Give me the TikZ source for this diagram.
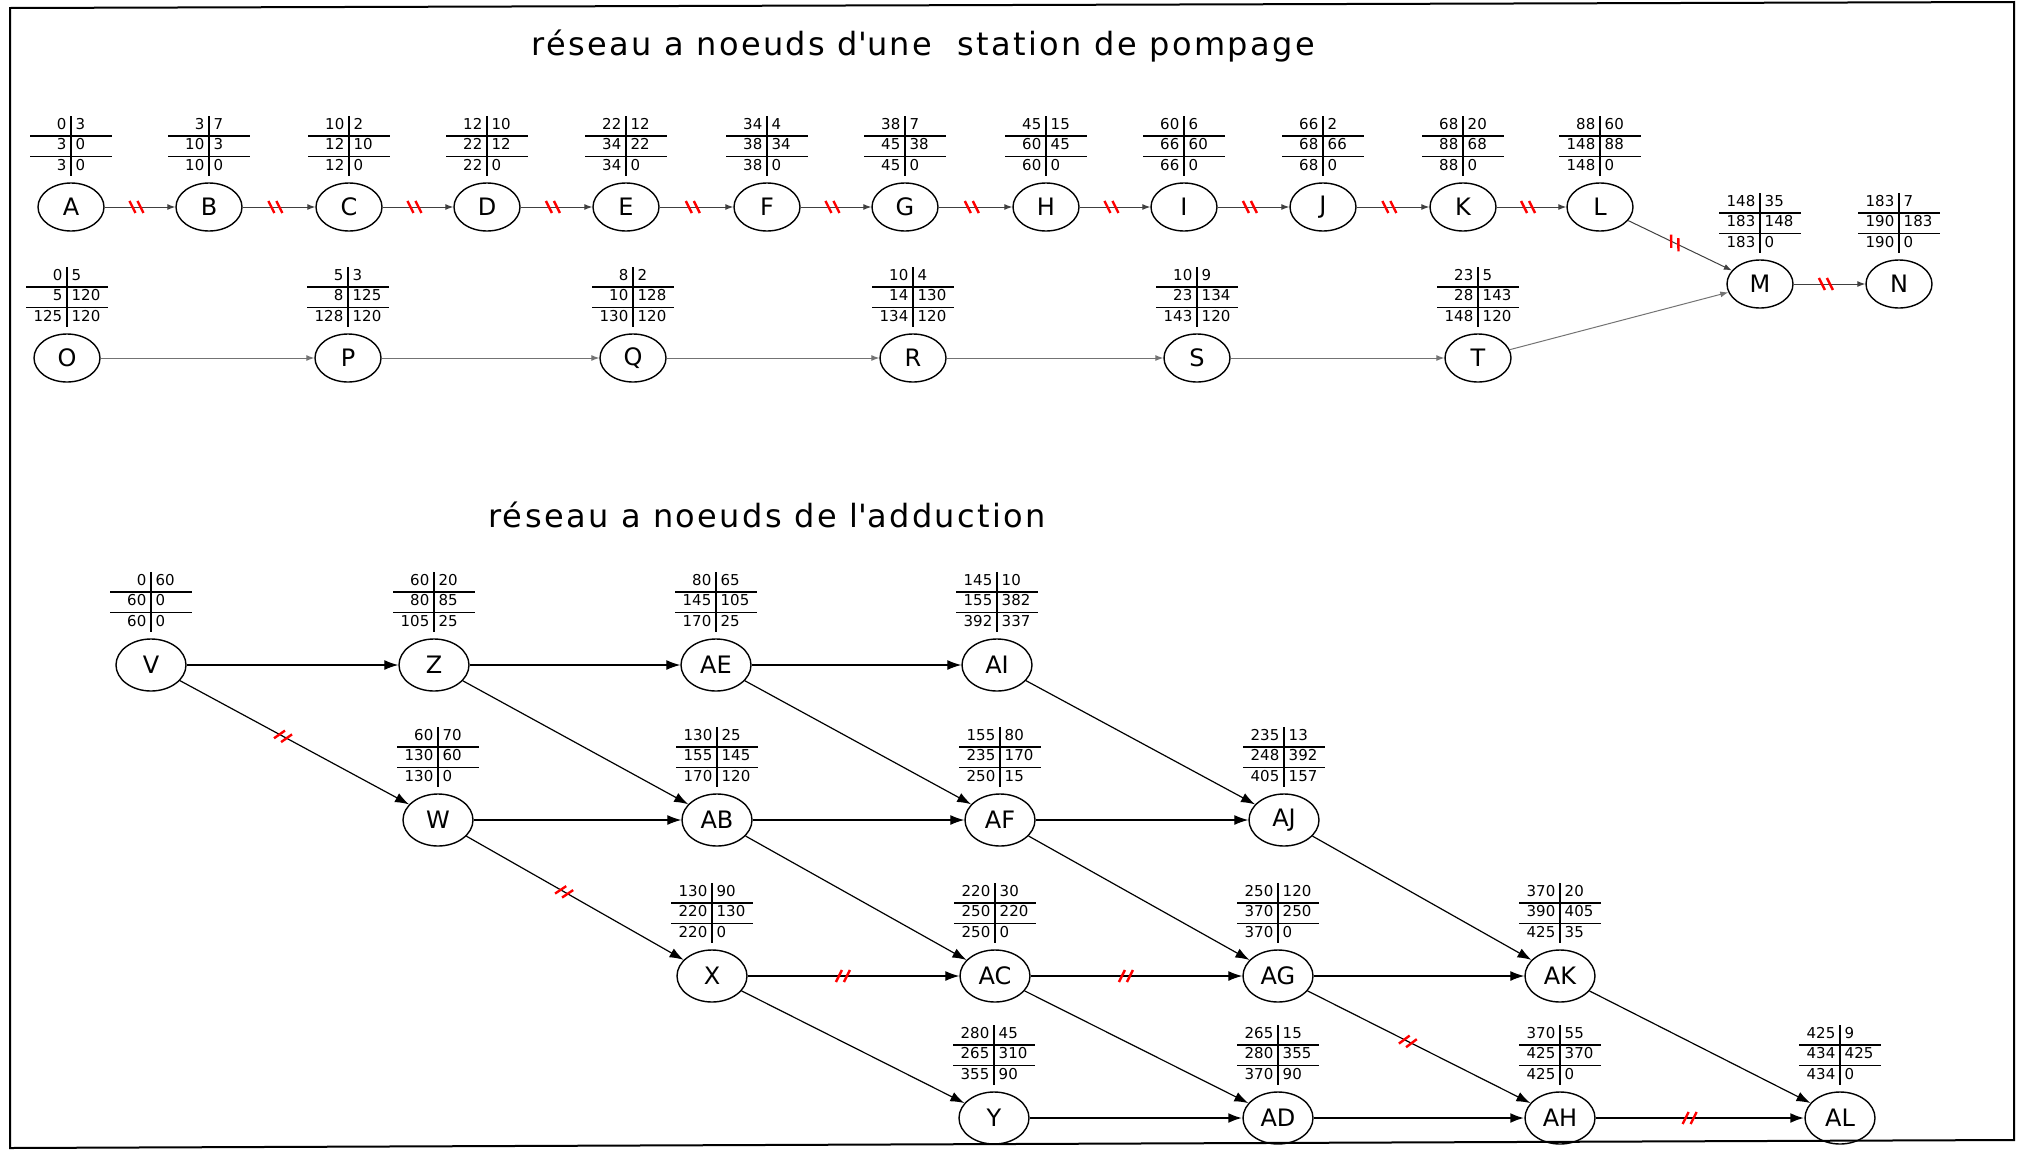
\documentclass[tikz,border=0pt]{standalone}
\usepackage{fontspec}
\setmainfont{DejaVu Sans}
\usepackage{array}
\usetikzlibrary{positioning,arrows.meta,shapes.geometric,decorations.markings}

% dates d'une tache : debut | duree, fin | ..., fin tard | marge
\newcommand{\tableau}[6]{%
  \setlength{\tabcolsep}{2pt}\setlength{\arrayrulewidth}{0.7pt}%
  \begin{tabular}{w{r}{16pt}|w{l}{16pt}}
    #1 & #2\\\hline
    #3 & #4\\\hline
    #5 & #6
  \end{tabular}}

\begin{document}
\begin{tikzpicture}[x=0.5pt,y=-0.5pt,
    etape/.style={ellipse,draw,line width=0.7pt,minimum width=33pt,minimum height=24pt,inner sep=0pt,font=\fontsize{12}{14}\selectfont},
    etapeb/.style={etape,minimum width=35pt,minimum height=26pt},
    dates/.style={inner sep=0pt,font=\fontsize{7.5}{9.5}\selectfont},
    titre/.style={font=\fontsize{16}{19}\selectfont\addfontfeature{LetterSpace=7.5}},
    lien/.style={draw=black!75,line width=0.5pt,-{Latex[length=4pt,width=3pt]}},
    fleche/.style={draw=black,line width=0.6pt,-{Latex[length=7pt,width=5pt]}},
    critique/.style={postaction={decorate},decoration={markings,mark=at position 0.45 with
      {\draw[red,line width=1.2pt,-] (-3.5pt,3pt) -- (-0.5pt,-3pt) (0.5pt,3pt) -- (3.5pt,-3pt);}}},
    critiqueb/.style={postaction={decorate},decoration={markings,mark=at position 0.45 with
      {\draw[red,line width=1.2pt,-] (-3.5pt,-3pt) -- (-0.5pt,3pt) (0.5pt,-3pt) -- (3.5pt,3pt);}}}]
  \useasboundingbox (0,0) rectangle (2024,1157);
  \draw[line width=1pt] (10,8) -- (2014,2) -- (2014,1140) -- (10,1148) -- cycle;

  \node[titre] (titre1) at (923,46) {réseau a noeuds d\textquotesingle une~~station de pompage};
  \node[titre] (titre2) at (767,515) {réseau a noeuds de l\textquotesingle adduction};

  % station de pompage
  \foreach \n/\x/\y/\va/\vb/\vc/\vd/\ve/\vf in {A/71/207/0/3/3/0/3/0, B/209/207/3/7/10/3/10/0,
      C/349/207/10/2/12/10/12/0, D/487/207/12/10/22/12/22/0, E/626/207/22/12/34/22/34/0,
      F/767/207/34/4/38/34/38/0, G/905/207/38/7/45/38/45/0, H/1046/207/45/15/60/45/60/0,
      I/1184/207/60/6/66/60/66/0, J/1323/207/66/2/68/66/68/0, K/1463/207/68/20/88/68/88/0,
      L/1600/207/88/60/148/88/148/0, M/1760/284/148/35/183/148/183/0, N/1899/284/183/7/190/183/190/0,
      O/67/358/0/5/5/120/125/120, P/348/358/5/3/8/125/128/120, Q/633/358/8/2/10/128/130/120,
      R/913/358/10/4/14/130/134/120, S/1197/358/10/9/23/134/143/120, T/1478/358/23/5/28/143/148/120}
    {\node[etape] (\n) at (\x,\y) {\n};
     \node[dates,above=3pt of \n] (t\n) {\tableau{\va}{\vb}{\vc}{\vd}{\ve}{\vf}};}

  \foreach \de/\vers in {A/B,B/C,C/D,D/E,E/F,F/G,G/H,H/I,I/J,J/K,K/L,L/M,M/N}
    \draw[lien,critique] (\de) -- (\vers);
  \foreach \de/\vers in {O/P,P/Q,Q/R,R/S,S/T,T/M}
    \draw[lien,draw=black!55] (\de) -- (\vers);

  % adduction
  \foreach \n/\x/\y/\va/\vb/\vc/\vd/\ve/\vf in {V/151/665/0/60/60/0/60/0, Z/434/665/60/20/80/85/105/25,
      AE/716/665/80/65/145/105/170/25, AI/997/665/145/10/155/382/392/337,
      W/438/820/60/70/130/60/130/0, AB/717/820/130/25/155/145/170/120,
      AF/1000/820/155/80/235/170/250/15, AJ/1284/820/235/13/248/392/405/157,
      X/712/976/130/90/220/130/220/0, AC/995/976/220/30/250/220/250/0,
      AG/1278/976/250/120/370/250/370/0, AK/1560/976/370/20/390/405/425/35,
      Y/994/1118/280/45/265/310/355/90, AD/1278/1118/265/15/280/355/370/90,
      AH/1560/1118/370/55/425/370/425/0, AL/1840/1118/425/9/434/425/434/0}
    {\node[etapeb] (\n) at (\x,\y) {\n};
     \node[dates,above=3pt of \n] (t\n) {\tableau{\va}{\vb}{\vc}{\vd}{\ve}{\vf}};}

  \foreach \de/\vers in {V/Z,Z/AE,AE/AI,W/AB,AB/AF,AF/AJ,AG/AK,
      Z/AB,AE/AF,AI/AJ,AB/AC,AF/AG,AJ/AK,X/Y,AC/AD,AK/AL}
    \draw[fleche] (\de) -- (\vers);
  \foreach \de/\vers in {V/W,W/X,AG/AH,X/AC,AC/AG}
    \draw[fleche,critiqueb] (\de) -- (\vers);
  \draw[fleche,line width=1.2pt] (Y) -- (AD);
  \draw[fleche,line width=1.2pt] (AD) -- (AH);
  \draw[fleche,line width=1.2pt,critiqueb] (AH) -- (AL);
\end{tikzpicture}
\end{document}
